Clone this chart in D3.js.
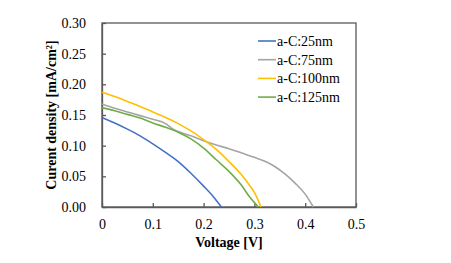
<!DOCTYPE html>
<html>
<head>
<meta charset="utf-8">
<script src="https://cdn.jsdelivr.net/npm/d3@7"></script>
<style>
  body { margin: 0; background: #fff; }
  svg text { font-family: 'Liberation Serif', 'Times New Roman', serif; fill: #000; }
</style>
</head>
<body>
<svg id="chart" width="451" height="263"></svg>
<script>
const FONT = "'Liberation Serif', 'Times New Roman', serif"

// series names + colours
const seriesNames = ['a-C:25nm', 'a-C:75nm', 'a-C:100nm', 'a-C:125nm']
const seriesColors = ['#4472C4', '#A5A5A5', '#FFC000', '#70AD47']

// [voltage, current density]
const nm25 = [[0, 0.146], [0.025, 0.137], [0.05, 0.127], [0.075, 0.116], [0.1, 0.103],
  [0.125, 0.089], [0.15, 0.074], [0.175, 0.055], [0.2, 0.034], [0.22, 0.016], [0.235, 0]]
const nm75 = [[0, 0.168], [0.025, 0.161], [0.05, 0.155], [0.075, 0.149], [0.1, 0.143],
  [0.125, 0.136], [0.14, 0.127], [0.15, 0.123], [0.175, 0.116], [0.2, 0.108], [0.225, 0.101],
  [0.25, 0.095], [0.275, 0.088], [0.3, 0.081], [0.325, 0.073], [0.34, 0.066], [0.36, 0.054],
  [0.38, 0.039], [0.4, 0.021], [0.416, 0]]
const nm100 = [[0, 0.187], [0.025, 0.180], [0.05, 0.172], [0.075, 0.164], [0.1, 0.155],
  [0.125, 0.146], [0.15, 0.136], [0.175, 0.124], [0.2, 0.110], [0.225, 0.094], [0.25, 0.074],
  [0.275, 0.052], [0.29, 0.036], [0.3, 0.024], [0.313, 0]]
const nm125 = [[0, 0.162], [0.025, 0.157], [0.05, 0.151], [0.075, 0.145], [0.1, 0.137],
  [0.125, 0.130], [0.15, 0.122], [0.175, 0.111], [0.2, 0.096], [0.225, 0.077], [0.25, 0.058],
  [0.275, 0.035], [0.29, 0.017], [0.308, 0]]
const seriesData = [nm25, nm75, nm100, nm125]

const xTicks = [0, 0.1, 0.2, 0.3, 0.4, 0.5]
const yTicks = [0, 0.05, 0.10, 0.15, 0.20, 0.25, 0.30]

const MARGIN = { top: 23, left: 102, right: 95, bottom: 56 }
const WIDTH = 451
const HEIGHT = 263
const innerWd = WIDTH - MARGIN.left - MARGIN.right
const innerHt = HEIGHT - MARGIN.top - MARGIN.bottom

const x = d3.scaleLinear().domain([0, 0.5]).range([0, innerWd])
const y = d3.scaleLinear().domain([0, 0.3]).range([innerHt, 0])

const svg = d3.select('#chart')
  .attr('font-family', FONT)
const g = svg.append('g')
  .attr('transform', 'translate(' + MARGIN.left + ',' + MARGIN.top + ')')

// plot frame
g.append('rect')
  .attr('width', innerWd)
  .attr('height', innerHt)
  .attr('fill', 'none')
  .attr('stroke', '#595959')
  .attr('stroke-width', 1.3)

// axes, ticks pointing inward
const xAxis = g.append('g')
  .attr('transform', 'translate(0,' + innerHt + ')')
  .call(d3.axisBottom(x).tickValues(xTicks).tickSizeInner(-4).tickSizeOuter(0)
    .tickPadding(12).tickFormat(d => d === 0 ? '0' : d3.format('.1f')(d)))
const yAxis = g.append('g')
  .call(d3.axisLeft(y).tickValues(yTicks).tickSizeInner(-4).tickSizeOuter(0)
    .tickPadding(16).tickFormat(d3.format('.2f')))

;[xAxis, yAxis].forEach(a => {
  a.attr('font-family', FONT).attr('font-size', 14)
  a.select('.domain').attr('stroke', '#595959').attr('stroke-width', 1.3)
  a.selectAll('.tick line').attr('stroke', '#595959').attr('stroke-width', 1.3)
  a.selectAll('.tick text')
    .attr('fill', '#000')
    .style('font-family', FONT)
    .style('font-size', '14px')
})

// curves
const line = d3.line()
  .x(d => x(d[0]))
  .y(d => y(d[1]))
  .curve(d3.curveMonotoneX)

g.append('g').selectAll('path')
  .data(seriesData)
  .enter()
  .append('path')
  .attr('d', line)
  .attr('fill', 'none')
  .attr('stroke', (d, i) => seriesColors[i])
  .attr('stroke-width', 1.6)

// legend
const legend = g.append('g').attr('transform', 'translate(156,18)')
const rows = legend.selectAll('g')
  .data(seriesNames)
  .enter()
  .append('g')
  .attr('transform', (d, i) => 'translate(0,' + (i * 18.7) + ')')
rows.append('line')
  .attr('x1', 0).attr('x2', 18)
  .attr('stroke', (d, i) => seriesColors[i])
  .attr('stroke-width', 1.6)
rows.append('text')
  .attr('x', 19)
  .attr('dy', '0.35em')
  .style('font-family', FONT)
  .style('font-size', '14px')
  .text(d => d)

// axis titles
svg.append('text')
  .attr('x', MARGIN.left + innerWd / 2)
  .attr('y', 247)
  .attr('text-anchor', 'middle')
  .style('font-family', FONT)
  .style('font-size', '14px')
  .style('font-weight', 'bold')
  .text('Voltage [V]')

svg.append('text')
  .attr('transform', 'translate(56,' + (MARGIN.top + innerHt / 2) + ') rotate(-90)')
  .attr('text-anchor', 'middle')
  .style('font-family', FONT)
  .style('font-size', '14px')
  .style('font-weight', 'bold')
  .text('Curent density [mA/cm²]')
</script>
</body>
</html>
